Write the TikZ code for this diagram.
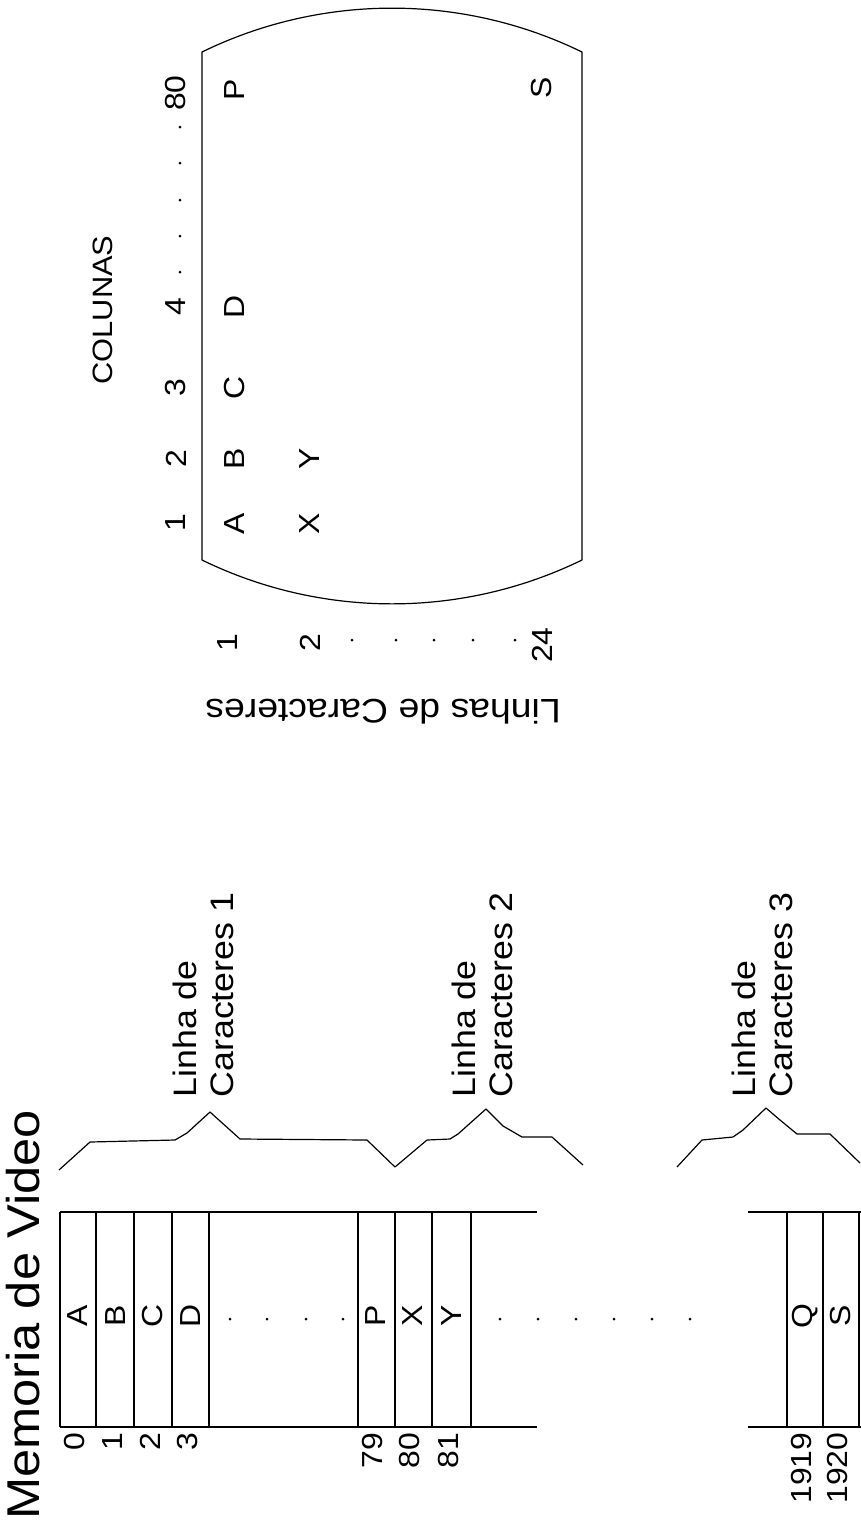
\documentclass[tikz,border=0pt]{standalone}
\usepackage{fontspec}
\setmainfont[FakeStretch=1.1]{Liberation Sans}
\usetikzlibrary{positioning}

\begin{document}
\begin{tikzpicture}[x=1pt, y=-1pt, line width=1.2pt, line join=round,
  every node/.style={inner sep=1pt},
  txt/.style={rotate=90, font=\fontsize{29}{34}\selectfont},
  big/.style={rotate=90, font=\fontsize{46}{52}\selectfont},
  note/.style={rotate=90, anchor=west, align=left, font=\fontsize{32.5}{37}\selectfont},
  num/.style={txt, anchor=east},
  dot/.style={circle, fill, inner sep=0pt, minimum size=3pt}]
  \useasboundingbox (0,0) rectangle (861,1537);

  % video memory
  \node[big] (title) at (23,1315) {Memoria de Video};
  \draw (60,1212) -- (537,1212) (60,1427) -- (537,1427);
  \foreach \x in {60,96,134,172,209,358,395,432,471}
    \draw (\x,1212) -- (\x,1427);
  \draw (748,1212) -- (861,1212) (748,1427) -- (861,1427);
  \foreach \x in {787,823,859}
    \draw (\x,1212) -- (\x,1427);
  \foreach \x/\c/\n in {78/A/0, 116/B/1, 153/C/2, 191/D/3, 376/P/79, 413/X/80, 452/Y/81, 805/Q/1919, 841/S/1920} {
    \node[txt] (m\n) at (\x,1316) {\c};
    \node[num] (n\n) at (\x-3,1431) {\n};
  }
  \foreach \x in {230,267,306,343,500,538,576,614,652,690}
    \node[dot] (d\x) at (\x,1319) {};

  % character lines
  \draw (59,1170) -- (90,1142) -- (175,1140) -- (187,1133) -- (210,1112) -- (240,1139)
    -- (367,1140) -- (395,1167) -- (427,1140) -- (450,1139) -- (458,1134) -- (486,1109)
    -- (503,1126) -- (522,1137) -- (552,1137) -- (583,1165);
  \draw (677,1167) -- (702,1140) -- (733,1137) -- (743,1130) -- (766,1108) -- (780,1120)
    -- (797,1134) -- (830,1134) -- (860,1163);
  \node[note] (lin1) at (203,1099) {Linha de\\Caracteres 1};
  \node[note] (lin2) at (482,1099) {Linha de\\Caracteres 2};
  \node[note] (lin3) at (762,1099) {Linha de\\Caracteres 3};

  % screen
  \draw (202,52) to[bend left=26, looseness=.9] (582,52) -- (582,560)
    to[bend left=26, looseness=.9] (202,560) -- cycle;
  \node[txt, font=\fontsize{28}{32}\selectfont] (col) at (103,310) {COLUNAS};
  \foreach \y/\n in {523/1, 459/2, 388/3, 307/4, 93/80}
    \node[txt] (c\n) at (176,\y) {\n};
  \foreach \y in {127,163,200,236,272}
    \node[dot] (cd\y) at (180,\y) {};
  \foreach \y/\c in {524/A, 459/B, 388/C, 307/D, 90/P}
    \node[txt] (s\c) at (235,\y) {\c};
  \node[txt] (sX) at (310,524) {X};
  \node[txt] (sY) at (310,459) {Y};
  \node[txt] (sS) at (542,88) {S};
  \node[txt] (r1) at (228,643) {1};
  \node[txt] (r2) at (310,643) {2};
  \foreach \x in {352,396,434,473,515}
    \node[dot] (rd\x) at (\x,640) {};
  \node[txt] (r24) at (542,645) {24};
  \node[rotate=180, font=\fontsize{34}{40}\selectfont] (lin) at (383,712) {Linhas de Caracteres};
\end{tikzpicture}
\end{document}
